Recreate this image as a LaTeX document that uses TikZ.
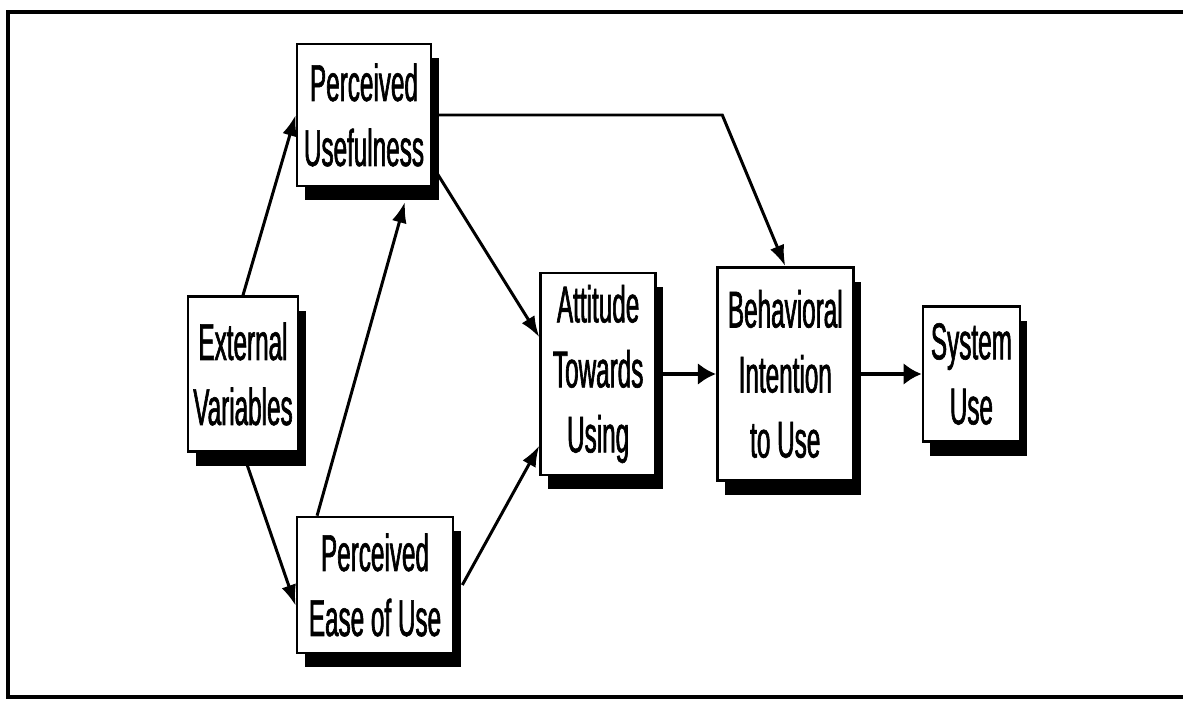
\documentclass[tikz,border=0pt]{standalone}
\usepackage{fontspec}
\setmainfont{Liberation Sans}[FakeStretch=0.47,FakeBold=1.2]
\usepackage{tikz}
\usetikzlibrary{arrows.meta,positioning,calc,shadows}
\tikzset{
  construct/.style={draw,line width=1.5pt,fill=white,inner sep=0pt,align=center,
    font=\fontsize{29.4}{37}\selectfont,
    drop shadow={shadow xshift=0.15cm,shadow yshift=-0.29cm,opacity=1,fill=black}},
  arrow/.style={-{Latex[length=4.2mm,width=3mm]},line width=1.7pt},
  thickarrow/.style={arrow,-{Latex[length=3.6mm,width=4.4mm]},line width=2.6pt},
  frame/.style={line width=2.4pt}
}
\begin{document}
\begin{tikzpicture}[node distance=1.2cm and 1.2cm]
  \useasboundingbox (0,0) rectangle (23.66,14.08);
  \coordinate (ftr) at (23.66,13.84);
  \coordinate (fbr) at (23.66,0.14);
  \draw[frame] (ftr) -- (0.16,13.84) -- (0.16,0.14) -- (fbr);
  \node[construct,minimum width=2.2cm,minimum height=3.1cm] (ev) at (4.86,6.6) {External\\Variables};
  \node[construct,minimum width=2.68cm,minimum height=2.84cm] (pu) at (7.28,11.78) {Perceived\\Usefulness};
  \node[construct,minimum width=3.12cm,minimum height=2.72cm] (peou) at (7.5,2.38) {Perceived\\Ease of Use};
  \node[construct,right=4.8cm of ev,minimum width=2.3cm,minimum height=4.04cm] (atu) {Attitude\\Towards\\Using};
  \node[construct,right=1.18cm of atu,minimum width=2.72cm,minimum height=4.26cm] (bi) {Behavioral\\Intention\\to Use};
  \node[construct,right=1.34cm of bi,minimum width=1.94cm,minimum height=2.7cm] (su) {System\\Use};
  \draw[arrow] (ev.north) -- (pu.west);
  \draw[arrow] (ev.south) -- ($(peou.south west)!0.35!(peou.north west)$);
  \draw[arrow] ($(peou.north west)!0.135!(peou.north east)$) -- ($(pu.south west)!0.8!(pu.south east)+(0,-0.29)$);
  \draw[arrow] ($(pu.north east)!0.85!(pu.south east)$) -- ($(atu.north west)!0.32!(atu.south west)$);
  \draw[arrow] ($(peou.east)+(0.16,0)$) -- ($(atu.north west)!0.85!(atu.south west)$);
  \draw[arrow] (pu.east) -- ($(pu.east -| bi.north)+(-1.26,0)$) -- (bi.north);
  \draw[thickarrow] (atu.east) -- (atu.east -| bi.west);
  \draw[thickarrow] (bi.east) -- (bi.east -| su.west);
\end{tikzpicture}
\end{document}
